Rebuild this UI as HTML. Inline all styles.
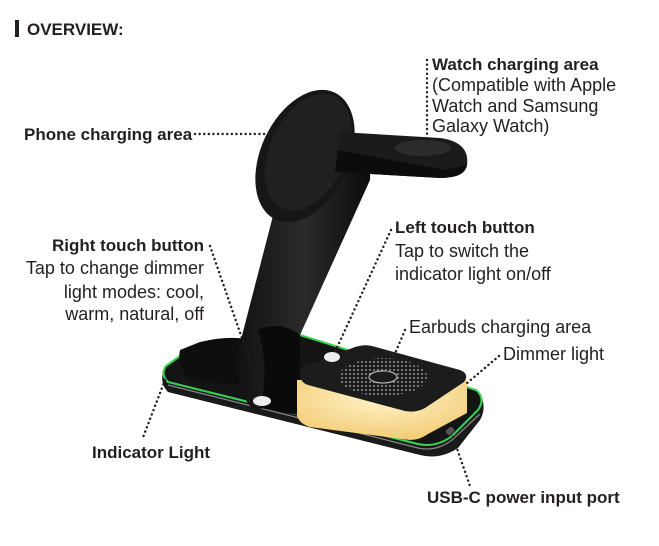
<!DOCTYPE html>
<html><head><meta charset="utf-8"><style>
html,body{margin:0;padding:0;background:#fff;width:659px;height:546px;overflow:hidden}
svg{display:block}
text{font-family:"Liberation Sans",sans-serif;font-size:18px;fill:#231f20}
.b{font-weight:bold;font-size:17px}
.d{stroke:#231f20;stroke-width:2.4;stroke-dasharray:0.1 4.5;stroke-linecap:round;fill:none}
</style></head><body>
<svg width="659" height="546" viewBox="0 0 659 546">
<defs>
<radialGradient id="amb" cx="0.5" cy="0.3" r="0.8"><stop offset="0" stop-color="#fff3c8"/><stop offset="1" stop-color="#f2c66a"/></radialGradient>
<linearGradient id="arm" x1="0" y1="0" x2="1" y2="0"><stop offset="0" stop-color="#111"/><stop offset="0.5" stop-color="#2a2a2a"/><stop offset="1" stop-color="#0c0c0c"/></linearGradient>
<pattern id="dots" width="4" height="4" patternUnits="userSpaceOnUse"><circle cx="2" cy="2" r="0.9" fill="#ddd"/></pattern>
</defs>
<rect x="15" y="20" width="4" height="17" fill="#231f20"/>
<text x="27" y="35" class="b">OVERVIEW:</text>

<path d="M163,372 Q160,384 168,392 L420,455 Q440,460 458,448 L480,420 Q486,410 482,398 L478,392 Z" fill="#1a1a1a"/>
<path d="M166,366 Q160,374 168,382 L418,444 Q436,448 452,436 L478,410 Q486,398 476,390 L300,335 Q290,333 280,336 L180,356 Z" fill="#141414" stroke="#39d353" stroke-width="2"/>
<path d="M168,385 L418,448 Q436,452 452,440 L480,414" fill="none" stroke="#888" stroke-width="1.2"/>
<path d="M180,350 Q176,370 192,380 L240,385 L250,340 Q230,335 200,342 Z" fill="#0e0e0e"/>
<path d="M237,355 L290,150 Q300,128 330,128 L348,130 Q372,138 370,180 L300,335 L300,400 L255,410 Q238,400 237,355 Z" fill="url(#arm)"/>
<path d="M258,330 Q280,320 300,335 L300,415 L260,408 Q270,370 258,330 Z" fill="#0a0a0a"/>
<ellipse cx="305" cy="156" rx="44" ry="70" transform="rotate(25 305 156)" fill="#161616"/>
<ellipse cx="308" cy="152" rx="38" ry="62" transform="rotate(25 308 152)" fill="#202020"/>
<path d="M340,132 L440,138 Q470,142 467,165 Q465,178 440,178 L335,172 Z" fill="#1b1b1b"/>
<path d="M338,150 L335,172 L440,178 Q465,178 467,165 L445,170 Z" fill="#0c0c0c"/>
<ellipse cx="423" cy="148" rx="28" ry="8" fill="#2c2c2c"/>
<path d="M297,380 L297,416 Q300,424 310,427 L410,440 Q420,440 428,434 L467,413 L467,380 Z" fill="url(#amb)"/>
<path d="M300,375 Q298,370 305,366 L355,347 Q365,344 372,346 L460,370 Q470,374 464,382 L425,408 Q416,413 405,411 L308,385 Q300,382 300,375 Z" fill="#1c1c1c"/>
<ellipse cx="383" cy="377" rx="44" ry="19" fill="url(#dots)" opacity="0.8"/>
<ellipse cx="383" cy="377" rx="14" ry="6" fill="#1c1c1c" stroke="#ccc" stroke-width="1"/>
<ellipse cx="262" cy="401" rx="9" ry="5" fill="#eee"/>
<ellipse cx="332" cy="357" rx="8" ry="5" fill="#eee"/>
<rect x="446" y="428" width="8" height="6" rx="2" fill="#555" transform="rotate(-40 450 431)"/>

<text x="432" y="70" class="b">Watch charging area</text>
<text x="432" y="91">(Compatible with Apple</text>
<text x="432" y="112">Watch and Samsung</text>
<text x="432" y="132">Galaxy Watch)</text>
<path class="d" d="M427,60 L427,148"/>
<text x="24" y="140" class="b">Phone charging area</text>
<path class="d" d="M195,134 L280,134"/>
<text x="204" y="251" class="b" text-anchor="end">Right touch button</text>
<text x="204" y="274" text-anchor="end">Tap to change dimmer</text>
<text x="204" y="298" text-anchor="end">light modes: cool,</text>
<text x="204" y="320" text-anchor="end">warm, natural, off</text>
<path class="d" d="M210,246 L262,396"/>
<text x="395" y="233" class="b">Left touch button</text>
<text x="395" y="257">Tap to switch the</text>
<text x="395" y="280">indicator light on/off</text>
<path class="d" d="M391,230 L335,352"/>
<text x="409" y="333">Earbuds charging area</text>
<path class="d" d="M405,330 L385,377"/>
<text x="503" y="360">Dimmer light</text>
<path class="d" d="M499,356 L466,384"/>
<text x="92" y="458" class="b">Indicator Light</text>
<path class="d" d="M165,380 L142,440"/>
<text x="427" y="503" class="b">USB-C power input port</text>
<path class="d" d="M453,437 L470,486"/>
</svg>
</body></html>
